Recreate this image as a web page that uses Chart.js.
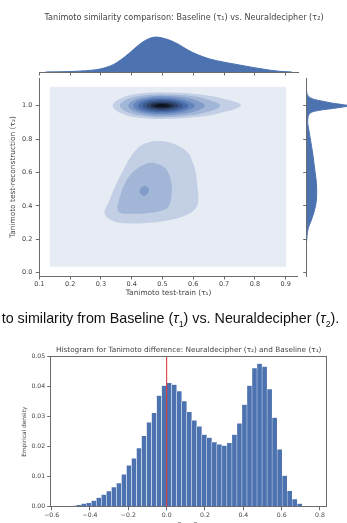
<!DOCTYPE html>
<html>
<head>
<meta charset="utf-8">
<title>Tanimoto similarity comparison</title>
<script src="https://cdn.jsdelivr.net/npm/chart.js@4.4.1/dist/chart.umd.min.js"></script>
<style>
  html, body { margin: 0; padding: 0; background: #fff; }
  body { width: 347px; height: 523px; overflow: hidden; position: relative; }
  .box { position: absolute; }
  #caption {
    position: absolute; left: 1.7px; top: 310px;
    font-family: "Liberation Sans", sans-serif; font-size: 14.3px;
    color: #111; white-space: nowrap;
  }
  #caption sub { font-size: 0.62em; }
</style>
</head>
<body>
<div class="box" style="left:0;top:0;width:368px;height:80px"><canvas id="topMargin"></canvas></div>
<div class="box" style="left:0;top:60px;width:298px;height:250px"><canvas id="joint"></canvas></div>
<div class="box" style="left:300px;top:60px;width:60px;height:250px"><canvas id="rightMargin"></canvas></div>
<div id="caption">to similarity from Baseline (<i>τ</i><sub>1</sub>) vs. Neuraldecipher (<i>τ</i><sub>2</sub>).</div>
<div class="box" style="left:0;top:330px;width:347px;height:205px"><canvas id="hist"></canvas></div>

<script>
const FONT = "DejaVu Sans";
const AXIS_COLOR = "#6b6b6b";
const TEXT_COLOR = "#444444";
const BLUE = "#4c72b0";

// ticks
const tau1Ticks = [0.1, 0.2, 0.3, 0.4, 0.5, 0.6, 0.7, 0.8, 0.9];
const tau1TickLabels = ["0.1", "0.2", "0.3", "0.4", "0.5", "0.6", "0.7", "0.8", "0.9"];
const tau2Ticks = [0.0, 0.2, 0.4, 0.6, 0.8, 1.0];
const tau2TickLabels = ["0.0", "0.2", "0.4", "0.6", "0.8", "1.0"];
const diffTicks = [-0.6, -0.4, -0.2, 0.0, 0.2, 0.4, 0.6, 0.8];
const diffTickLabels = ["−0.6", "−0.4", "−0.2", "0.0", "0.2", "0.4", "0.6", "0.8"];
const densityTicks = [0, 0.01, 0.02, 0.03, 0.04, 0.05];
const densityTickLabels = ["0.00", "0.01", "0.02", "0.03", "0.04", "0.05"];

// marginal KDE of tau1 (top), scaled so the peak is 1
const tau1Grid = [0.12, 0.15, 0.20, 0.25, 0.28, 0.30, 0.33, 0.35, 0.38, 0.40, 0.43, 0.45, 0.47, 0.48,
  0.50, 0.52, 0.55, 0.58, 0.60, 0.63, 0.65, 0.70, 0.75, 0.80, 0.85, 0.88, 0.92];
const tau1Density = [0, 0.004, 0.012, 0.035, 0.06, 0.09, 0.17, 0.26, 0.45, 0.60, 0.82, 0.93, 0.99, 1.0,
  0.97, 0.92, 0.80, 0.64, 0.55, 0.44, 0.38, 0.28, 0.20, 0.12, 0.05, 0.02, 0];

// marginal KDE of tau2 (right), scaled so the peak is 1
const tau2Grid = [0.19, 0.24, 0.27, 0.31, 0.36, 0.41, 0.46, 0.51, 0.56, 0.61, 0.66, 0.71, 0.76, 0.81,
  0.86, 0.90, 0.93, 0.945, 0.955, 0.965, 0.975, 0.984, 0.993, 1.000, 1.006, 1.014, 1.024, 1.034,
  1.045, 1.06, 1.075, 1.085];
const tau2Density = [0, 0.015, 0.04, 0.10, 0.165, 0.21, 0.23, 0.23, 0.215, 0.19, 0.165, 0.14, 0.11, 0.078,
  0.045, 0.022, 0.03, 0.045, 0.08, 0.16, 0.36, 0.62, 0.86, 1.0, 0.85, 0.62, 0.42, 0.23,
  0.10, 0.03, 0.005, 0];

// joint KDE contour levels, [tau1, tau2] outlines
const kdeGrid = [[0.135, 0.036], [0.901, 0.036], [0.901, 1.114], [0.135, 1.114], [0.135, 0.036]];
const lowerLevel1 = [[0.470, 0.789], [0.514, 0.784], [0.557, 0.754], [0.584, 0.715], [0.595, 0.675],
  [0.606, 0.615], [0.614, 0.515], [0.616, 0.440], [0.611, 0.395], [0.589, 0.356], [0.535, 0.320],
  [0.459, 0.299], [0.384, 0.296], [0.340, 0.310], [0.313, 0.349], [0.316, 0.390], [0.324, 0.416],
  [0.346, 0.515], [0.373, 0.615], [0.405, 0.715], [0.433, 0.765], [0.470, 0.789]];
const lowerLevel2 = [[0.470, 0.659], [0.508, 0.627], [0.527, 0.555], [0.530, 0.475], [0.519, 0.395],
  [0.492, 0.369], [0.449, 0.356], [0.405, 0.353], [0.362, 0.359], [0.353, 0.390], [0.356, 0.416],
  [0.373, 0.515], [0.400, 0.595], [0.427, 0.635], [0.454, 0.657], [0.470, 0.659]];
const lowerLevel3 = [[0.441, 0.521], [0.452, 0.512], [0.456, 0.495], [0.451, 0.472], [0.441, 0.461],
  [0.430, 0.470], [0.426, 0.488], [0.431, 0.510], [0.441, 0.521]];
const upperLevel1 = [[0.497, 1.080], [0.600, 1.072], [0.691, 1.045], [0.755, 1.002], [0.691, 0.958],
  [0.600, 0.930], [0.497, 0.920], [0.433, 0.926], [0.370, 0.952], [0.338, 1.000], [0.370, 1.048],
  [0.433, 1.074], [0.497, 1.080]];
const upperLevel2 = [[0.497, 1.069], [0.573, 1.062], [0.640, 1.040], [0.687, 1.000], [0.640, 0.960],
  [0.573, 0.938], [0.497, 0.931], [0.443, 0.937], [0.389, 0.959], [0.362, 1.000], [0.389, 1.041],
  [0.443, 1.063], [0.497, 1.069]];
const upperLevel3 = [[0.497, 1.059], [0.553, 1.053], [0.603, 1.035], [0.638, 1.000], [0.603, 0.965],
  [0.553, 0.947], [0.497, 0.941], [0.454, 0.946], [0.411, 0.965], [0.389, 1.000], [0.411, 1.035],
  [0.454, 1.054], [0.497, 1.059]];
const upperLevel4 = [[0.497, 1.049], [0.540, 1.044], [0.578, 1.029], [0.605, 1.000], [0.578, 0.971],
  [0.540, 0.956], [0.497, 0.951], [0.460, 0.955], [0.423, 0.971], [0.405, 1.000], [0.423, 1.029],
  [0.460, 1.045], [0.497, 1.049]];
const upperLevel5 = [[0.497, 1.040], [0.532, 1.036], [0.562, 1.024], [0.584, 1.000], [0.562, 0.976],
  [0.532, 0.964], [0.497, 0.960], [0.467, 0.963], [0.436, 0.976], [0.421, 1.000], [0.436, 1.024],
  [0.467, 1.037], [0.497, 1.040]];
const upperLevel6 = [[0.497, 1.032], [0.525, 1.029], [0.549, 1.019], [0.566, 1.000], [0.549, 0.981],
  [0.525, 0.971], [0.497, 0.968], [0.473, 0.971], [0.448, 0.981], [0.436, 1.000], [0.448, 1.019],
  [0.473, 1.029], [0.497, 1.032]];
const upperLevel7 = [[0.497, 1.024], [0.519, 1.022], [0.538, 1.014], [0.551, 1.000], [0.538, 0.986],
  [0.519, 0.978], [0.497, 0.976], [0.478, 0.978], [0.459, 0.986], [0.449, 1.000], [0.459, 1.014],
  [0.478, 1.022], [0.497, 1.024]];
const upperLevel8 = [[0.497, 1.016], [0.513, 1.015], [0.527, 1.010], [0.537, 1.000], [0.527, 0.990],
  [0.513, 0.985], [0.497, 0.984], [0.483, 0.985], [0.469, 0.990], [0.462, 1.000], [0.469, 1.010],
  [0.483, 1.015], [0.497, 1.016]];
const upperLevel9 = [[0.497, 1.010], [0.508, 1.009], [0.517, 1.006], [0.524, 1.000], [0.517, 0.994],
  [0.508, 0.991], [0.497, 0.990], [0.487, 0.991], [0.478, 0.994], [0.473, 1.000], [0.478, 1.006],
  [0.487, 1.009], [0.497, 1.010]];

// histogram of tau2 - tau1
const binCenters = [-0.5109, -0.4847, -0.4585, -0.4323, -0.4061, -0.3799, -0.3537, -0.3275, -0.3013,
  -0.2751, -0.2489, -0.2227, -0.1965, -0.1703, -0.1441, -0.1179, -0.0917, -0.0655, -0.0393, -0.0131,
  0.0131, 0.0393, 0.0655, 0.0917, 0.1179, 0.1441, 0.1703, 0.1965, 0.2227, 0.2489, 0.2751, 0.3013,
  0.3275, 0.3537, 0.3799, 0.4061, 0.4323, 0.4585, 0.4847, 0.5109, 0.5371, 0.5633, 0.5895, 0.6157,
  0.6419, 0.6681, 0.6943, 0.7205, 0.7467, 0.7729];
const binDensity = [0.0001, 0.0003, 0.0006, 0.0010, 0.0013, 0.0020, 0.0030, 0.0040, 0.0052,
  0.0065, 0.0079, 0.0108, 0.0138, 0.0161, 0.0195, 0.0236, 0.0281, 0.0313, 0.0370, 0.0404,
  0.0413, 0.0407, 0.0385, 0.0352, 0.0316, 0.0288, 0.0268, 0.0240, 0.0230, 0.0215, 0.0208, 0.0204,
  0.0213, 0.0240, 0.0278, 0.0340, 0.0404, 0.0462, 0.0477, 0.0467, 0.0392, 0.0297, 0.0191, 0.0104,
  0.0053, 0.0025, 0.0010, 0, 0, 0];
const referenceLine = [0.0];

// contour fill shades, light to dark
const shades = ["#e6ebf4", "#c2cfe5", "#a2b6d7", "#829cc9", "#6283bc", "#486ba8", "#3a5788",
  "#2c4268", "#1d2b44", "#0e1420"];

function toPoints(pairs) {
  return pairs.map((p) => ({ x: p[0], y: p[1] }));
}

function fixTicks(values) {
  return (scale) => {
    scale.ticks = values.map((v) => ({ value: v }));
  };
}

function tickFont(size) {
  return { family: FONT, size: size };
}

const baseOptions = {
  animation: false,
  responsive: true,
  maintainAspectRatio: false,
  events: []
};

function hiddenPlugins() {
  return { legend: { display: false }, tooltip: { enabled: false } };
}

function contourDataset(pairs, shade, tension) {
  return {
    data: toPoints(pairs),
    fill: "shape",
    backgroundColor: shade,
    borderWidth: 0,
    pointRadius: 0,
    tension: tension
  };
}

function renderTopMargin() {
  new Chart(document.getElementById("topMargin"), {
    type: "line",
    data: {
      datasets: [{
        data: tau1Grid.map((x, i) => ({ x: x, y: tau1Density[i] })),
        fill: "origin",
        backgroundColor: BLUE,
        borderColor: BLUE,
        borderWidth: 1,
        pointRadius: 0,
        cubicInterpolationMode: "monotone"
      }]
    },
    options: {
      ...baseOptions,
      layout: { padding: 0 },
      plugins: {
        ...hiddenPlugins(),
        title: {
          display: true,
          text: "Tanimoto similarity comparison: Baseline (τ₁) vs. Neuraldecipher (τ₂)",
          color: TEXT_COLOR,
          font: { family: FONT, size: 8.1, weight: "normal" },
          padding: { top: 12.6, bottom: 7.7 }
        }
      },
      scales: {
        x: {
          type: "linear", min: 0.1, max: 0.94,
          afterBuildTicks: fixTicks(tau1Ticks),
          afterFit: (s) => { s.height = 8; },
          grid: { drawOnChartArea: false, tickLength: 3.5, tickColor: AXIS_COLOR },
          border: { display: true, color: AXIS_COLOR, width: 1 },
          ticks: { display: false }
        },
        y: {
          type: "linear", min: 0, max: 1.2,
          afterFit: (s) => { s.width = 39.3; },
          grid: { display: false }, border: { display: false }, ticks: { display: false }
        },
        yRight: {
          type: "linear", position: "right", min: 0, max: 1,
          afterFit: (s) => { s.width = 70; },
          grid: { display: false }, border: { display: false }, ticks: { display: false }
        }
      }
    }
  });
}

function renderJoint() {
  const levels = [
    [upperLevel9, 9], [upperLevel8, 8], [upperLevel7, 7], [upperLevel6, 6], [upperLevel5, 5],
    [upperLevel4, 4], [upperLevel3, 3], [upperLevel2, 2], [upperLevel1, 1],
    [lowerLevel3, 3], [lowerLevel2, 2], [lowerLevel1, 1]
  ];
  const datasets = levels.map((l) => contourDataset(l[0], shades[l[1]], 0.4));
  datasets.push(contourDataset(kdeGrid, shades[0], 0));

  new Chart(document.getElementById("joint"), {
    type: "line",
    data: { datasets: datasets },
    options: {
      ...baseOptions,
      layout: { padding: { top: 18.3, left: 0, right: 0, bottom: 0 } },
      plugins: hiddenPlugins(),
      scales: {
        x: {
          type: "linear", min: 0.1, max: 0.94,
          afterBuildTicks: fixTicks(tau1Ticks),
          afterFit: (s) => { s.height = 34; },
          grid: { drawOnChartArea: false, tickLength: 3.5, tickColor: AXIS_COLOR },
          border: { display: true, color: AXIS_COLOR, width: 1 },
          ticks: {
            callback: (v, i) => tau1TickLabels[i],
            color: TEXT_COLOR, font: tickFont(6.5), padding: 1, maxRotation: 0, autoSkip: false
          },
          title: {
            display: true, text: "Tanimoto test-train (τ₁)", color: TEXT_COLOR,
            font: { family: FONT, size: 7.4 }, padding: { top: 0, bottom: 12.3 }
          }
        },
        y: {
          type: "linear", min: -0.02, max: 1.164,
          afterBuildTicks: fixTicks(tau2Ticks),
          afterFit: (s) => { s.width = 39.3; },
          grid: { drawOnChartArea: false, tickLength: 3.5, tickColor: AXIS_COLOR },
          border: { display: true, color: AXIS_COLOR, width: 1 },
          ticks: {
            callback: (v, i) => tau2TickLabels[i],
            color: TEXT_COLOR, font: tickFont(6.5), padding: 3.5, autoSkip: false
          },
          title: {
            display: true, text: "Tanimoto test-reconstruction (τ₂)", color: TEXT_COLOR,
            font: { family: FONT, size: 7.4 }, padding: { top: 8.9, bottom: 0 }
          }
        }
      }
    }
  });
}

function renderRightMargin() {
  new Chart(document.getElementById("rightMargin"), {
    type: "line",
    data: {
      datasets: [{
        data: tau2Grid.map((y, i) => ({ x: tau2Density[i], y: y })),
        fill: "shape",
        backgroundColor: BLUE,
        borderColor: BLUE,
        borderWidth: 1,
        pointRadius: 0,
        cubicInterpolationMode: "monotone"
      }]
    },
    options: {
      ...baseOptions,
      indexAxis: "y",
      layout: { padding: { top: 18.3, left: 0, right: 0, bottom: 34 } },
      plugins: hiddenPlugins(),
      scales: {
        x: { type: "linear", min: 0, max: 1.23, display: false },
        y: {
          type: "linear", min: -0.02, max: 1.164,
          afterBuildTicks: fixTicks(tau2Ticks),
          afterFit: (s) => { s.width = 6.7; },
          grid: { drawOnChartArea: false, tickLength: 3.5, tickColor: AXIS_COLOR },
          border: { display: true, color: AXIS_COLOR, width: 1 },
          ticks: { display: false }
        }
      }
    }
  });
}

function renderHistogram() {
  new Chart(document.getElementById("hist"), {
    type: "bar",
    data: {
      datasets: [
        {
          type: "line",
          data: [{ x: referenceLine[0], y: densityTicks[0] }, { x: referenceLine[0], y: densityTicks[densityTicks.length - 1] }],
          borderColor: "#d62b2b",
          borderWidth: 1,
          pointRadius: 0,
          order: 0
        },
        {
          type: "bar",
          data: binCenters.map((x, i) => ({ x: x, y: binDensity[i] })),
          backgroundColor: BLUE,
          borderColor: "#ffffff",
          borderWidth: { left: 0.5, right: 0.5, top: 0.5, bottom: 0 },
          barPercentage: 1,
          categoryPercentage: 1,
          order: 1
        }
      ]
    },
    options: {
      ...baseOptions,
      layout: { padding: { top: 0, left: 0, right: 20.3, bottom: 0 } },
      plugins: {
        ...hiddenPlugins(),
        title: {
          display: true,
          fullSize: false,
          text: "Histogram for Tanimoto difference: Neuraldecipher (τ₂) and Baseline (τ₁)",
          color: TEXT_COLOR,
          font: { family: FONT, size: 7.3, weight: "normal" },
          padding: { top: 16.1, bottom: 1.8 }
        }
      },
      scales: {
        x: {
          type: "linear", min: -0.605, max: 0.835, offset: false, z: 1,
          afterBuildTicks: fixTicks(diffTicks),
          afterFit: (s) => { s.height = 28.3; },
          grid: { drawOnChartArea: false, offset: false, tickLength: 3.5, tickColor: AXIS_COLOR },
          border: { display: true, color: AXIS_COLOR, width: 1 },
          ticks: {
            callback: (v, i) => diffTickLabels[i],
            color: TEXT_COLOR, font: tickFont(6.2), padding: 1, maxRotation: 0, autoSkip: false
          },
          title: {
            display: true, text: "τ₂ − τ₁", color: TEXT_COLOR,
            font: { family: FONT, size: 6.5 }, padding: { top: 0, bottom: 6.6 }
          }
        },
        y: {
          type: "linear", min: 0, max: 0.05, z: 1,
          afterBuildTicks: fixTicks(densityTicks),
          afterFit: (s) => { s.width = 50.7; },
          grid: { drawOnChartArea: false, tickLength: 3.5, tickColor: AXIS_COLOR },
          border: { display: true, color: AXIS_COLOR, width: 1 },
          ticks: {
            callback: (v, i) => densityTickLabels[i],
            color: TEXT_COLOR, font: tickFont(6.2), padding: 2, autoSkip: false
          },
          title: {
            display: true, text: "Empirical density", color: TEXT_COLOR,
            font: { family: FONT, size: 5.8 }, padding: { top: 21.5, bottom: 0 }
          }
        },
        xTop: {
          type: "linear", position: "top", min: 0, max: 1, z: 1,
          afterFit: (s) => { s.height = 0; },
          grid: { display: false }, ticks: { display: false },
          border: { display: true, color: AXIS_COLOR, width: 1 }
        },
        yRight: {
          type: "linear", position: "right", min: 0, max: 1, z: 1,
          afterFit: (s) => { s.width = 0; },
          grid: { display: false }, ticks: { display: false },
          border: { display: true, color: AXIS_COLOR, width: 1 }
        }
      }
    }
  });
}

document.addEventListener("DOMContentLoaded", () => {
  renderTopMargin();
  renderJoint();
  renderRightMargin();
  renderHistogram();
});
</script>
</body>
</html>
